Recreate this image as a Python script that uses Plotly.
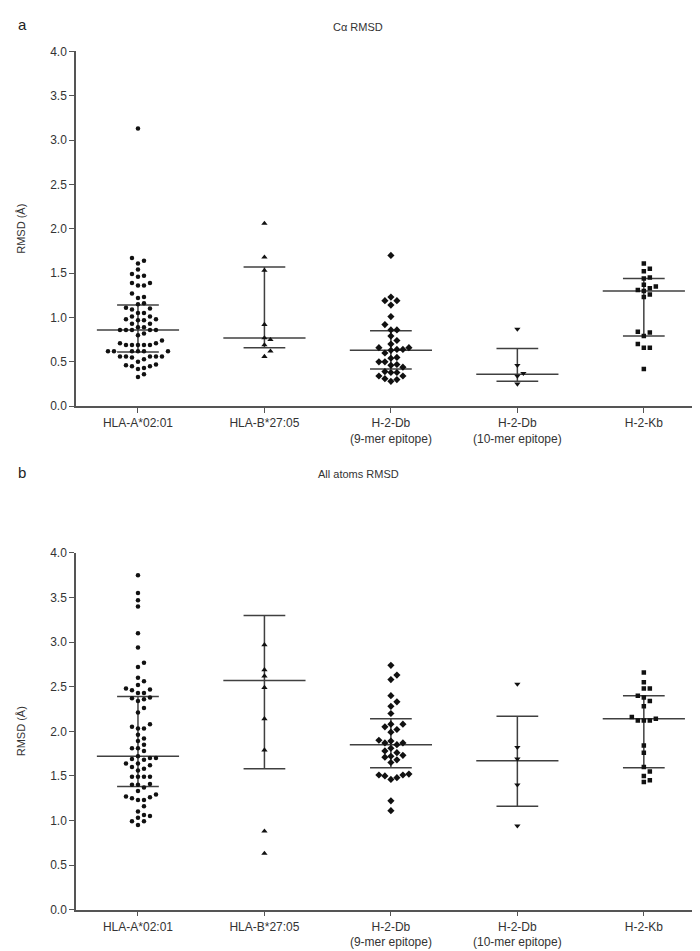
import numpy as np
import plotly.graph_objects as go

# ---------------- data ----------------
categories = ["HLA-A*02:01", "HLA-B*27:05", "H-2-Db<br>(9-mer epitope)",
              "H-2-Db<br>(10-mer epitope)", "H-2-Kb"]
symbols = ["circle", "triangle-up", "diamond", "triangle-down", "square"]
marker_sizes = [4.5, 5.5, 5.5, 5.5, 4.5]

# panel a : C-alpha RMSD
ca_hla_a0201 = [3.13, 1.67, 1.64, 1.61, 1.54, 1.49, 1.47, 1.46, 1.39, 1.39, 1.36, 1.36,
                1.27, 1.23, 1.22, 1.16, 1.15, 1.10, 1.11, 1.09, 1.05, 1.05, 1.01, 1.01,
                0.98, 0.98, 0.97, 0.97, 0.93, 0.93, 0.89, 0.89, 0.86, 0.86, 0.86, 0.86,
                0.86, 0.82, 0.80, 0.74, 0.71, 0.69, 0.69, 0.69, 0.69, 0.69, 0.71, 0.62,
                0.62, 0.62, 0.62, 0.62, 0.62, 0.56, 0.56, 0.56, 0.56, 0.56, 0.50, 0.53,
                0.55, 0.47, 0.45, 0.43, 0.42, 0.45, 0.46, 0.36, 0.33]
ca_hla_b2705 = [2.06, 1.68, 1.53, 0.92, 0.77, 0.75, 0.69, 0.62, 0.56]
ca_h2db_9mer = [1.70, 1.23, 1.19, 1.19, 1.14, 1.01, 0.92, 0.86, 0.86, 0.79, 0.74, 0.70,
                0.66, 0.64, 0.63, 0.60, 0.64, 0.66, 0.55, 0.50, 0.47, 0.50, 0.54, 0.44,
                0.46, 0.39, 0.38, 0.38, 0.34, 0.31, 0.28, 0.30, 0.34]
ca_h2db_10mer = [0.87, 0.46, 0.37, 0.34, 0.25]
ca_h2kb = [1.61, 1.55, 1.52, 1.44, 1.45, 1.37, 1.33, 1.30, 1.31, 1.35, 1.26, 1.23,
           0.84, 0.83, 0.79, 0.66, 0.66, 0.70, 0.42]
ca_median = [0.86, 0.77, 0.63, 0.36, 1.30]
ca_q1 = [0.61, 0.66, 0.42, 0.28, 0.79]
ca_q3 = [1.14, 1.57, 0.85, 0.65, 1.44]

# panel b : all atoms RMSD
all_hla_a0201 = [3.75, 3.55, 3.47, 3.40, 3.10, 2.94, 2.77, 2.72, 2.60, 2.56, 2.52, 2.47,
                 2.43, 2.43, 2.46, 2.48, 2.37, 2.34, 2.36, 2.38, 2.26, 2.21, 2.08, 2.05,
                 2.03, 2.03, 1.96, 1.92, 1.89, 1.85, 1.81, 1.78, 1.81, 1.70, 1.69, 1.72,
                 1.68, 1.70, 1.64, 1.64, 1.62, 1.60, 1.56, 1.58, 1.49, 1.49, 1.49, 1.49,
                 1.40, 1.40, 1.41, 1.37, 1.33, 1.27, 1.25, 1.23, 1.23, 1.26, 1.29, 1.16,
                 1.10, 1.05, 1.03, 1.06, 0.99, 0.99, 0.95]
all_hla_b2705 = [2.97, 2.69, 2.62, 2.49, 2.14, 1.79, 0.88, 0.63]
all_h2db_9mer = [2.74, 2.63, 2.58, 2.40, 2.33, 2.28, 2.20, 2.08, 2.08, 2.05, 2.02, 1.99,
                 1.89, 1.87, 1.87, 1.90, 1.85, 1.81, 1.78, 1.76, 1.73, 1.72, 1.71, 1.68,
                 1.65, 1.51, 1.50, 1.46, 1.48, 1.51, 1.52, 1.22, 1.11]
all_h2db_10mer = [2.53, 1.82, 1.69, 1.40, 0.94]
all_h2kb = [2.66, 2.55, 2.48, 2.48, 2.40, 2.38, 2.34, 2.28, 2.16, 2.12, 2.12, 2.12,
            2.14, 1.84, 1.76, 1.60, 1.55, 1.50, 1.45, 1.43]
all_median = [1.72, 2.57, 1.85, 1.67, 2.14]
all_q1 = [1.38, 1.58, 1.59, 1.16, 1.59]
all_q3 = [2.39, 3.30, 2.14, 2.17, 2.40]

ca_groups = [ca_hla_a0201, ca_hla_b2705, ca_h2db_9mer, ca_h2db_10mer, ca_h2kb]
all_groups = [all_hla_a0201, all_hla_b2705, all_h2db_9mer, all_h2db_10mer, all_h2kb]

# ---------------- layout geometry ----------------
W, H = 700, 951
X_RANGE = [-0.49, 4.46]
PLOT_L, PLOT_R = 68, 694
PPU_X = (PLOT_R - PLOT_L) / (X_RANGE[1] - X_RANGE[0])
panels = [  # (top px, bottom px)
    (37, 397),
    (546, 908),
]
SEP = 6.0  # px spacing between point centres in the swarm
MED_HALF = 0.325
Q_HALF = 0.165
LINE_COLOR = "#404040"
FONT = "Liberation Sans, Arial, sans-serif"


def swarm_offsets(vals, ppu_y):
    vals = np.asarray(vals, dtype=float)
    order = np.argsort(vals, kind="stable")
    placed = []
    offs = np.zeros(len(vals))
    cands = [0.0]
    for k in range(1, 40):
        cands += [k * SEP, -k * SEP]
    for i in order:
        yp = vals[i] * ppu_y
        chosen = 0.0
        for c in cands:
            if all((c - px) ** 2 + (yp - py) ** 2 >= SEP ** 2 for px, py in placed):
                chosen = c
                break
        placed.append((chosen, yp))
        offs[i] = chosen / PPU_X
    return offs


fig = go.Figure()
shapes = []

datasets = [(ca_groups, ca_median, ca_q1, ca_q3), (all_groups, all_median, all_q1, all_q3)]
for p, (groups, med, q1, q3) in enumerate(datasets):
    top, bot = panels[p]
    ppu_y = (bot - top) / 4.0
    xa = "x" if p == 0 else "x2"
    ya = "y" if p == 0 else "y2"
    for g, vals in enumerate(groups):
        offs = swarm_offsets(vals, ppu_y)
        fig.add_trace(go.Scatter(
            x=g + offs, y=vals, mode="markers", xaxis=xa, yaxis=ya,
            marker=dict(symbol=symbols[g], size=marker_sizes[g], color="#111111",
                        line=dict(width=0)),
            showlegend=False, hoverinfo="y"))
        # median & interquartile range
        lw = dict(color=LINE_COLOR, width=1.5)
        shapes.append(dict(type="line", xref=xa, yref=ya, x0=g - MED_HALF, x1=g + MED_HALF,
                           y0=med[g], y1=med[g], line=lw, layer="below"))
        shapes.append(dict(type="line", xref=xa, yref=ya, x0=g - Q_HALF, x1=g + Q_HALF,
                           y0=q1[g], y1=q1[g], line=lw, layer="below"))
        shapes.append(dict(type="line", xref=xa, yref=ya, x0=g - Q_HALF, x1=g + Q_HALF,
                           y0=q3[g], y1=q3[g], line=lw, layer="below"))
        shapes.append(dict(type="line", xref=xa, yref=ya, x0=g, x1=g,
                           y0=q1[g], y1=q3[g], line=lw, layer="below"))


def ydom(top, bot):
    return [1 - bot / H, 1 - top / H]


xdom = [PLOT_L / W, PLOT_R / W]
axis_common = dict(showline=True, linecolor="#555555", linewidth=1.5, ticks="outside",
                   ticklen=5, tickwidth=1.2, tickcolor="#555555", showgrid=False,
                   zeroline=False, tickfont=dict(family=FONT, size=12, color="#333333"))

xaxis_cfg = dict(axis_common, range=X_RANGE, domain=xdom, tickmode="array",
                 tickvals=list(range(len(categories))), ticktext=categories)
yaxis_cfg = dict(axis_common, range=[0, 4], tickmode="array",
                 tickvals=[0, 0.5, 1, 1.5, 2, 2.5, 3, 3.5, 4], tickformat=".1f")

fig.update_layout(
    width=W, height=H,
    margin=dict(l=0, r=0, t=0, b=0),
    paper_bgcolor="white", plot_bgcolor="white",
    xaxis=dict(xaxis_cfg, anchor="y"),
    yaxis=dict(yaxis_cfg, domain=ydom(*panels[0]), anchor="x"),
    xaxis2=dict(xaxis_cfg, anchor="y2"),
    yaxis2=dict(yaxis_cfg, domain=ydom(*panels[1]), anchor="x2"),
    shapes=shapes,
    font=dict(family=FONT, size=12, color="#333333"),
)

annos = []
titles = [("a", "C\u03b1 RMSD", 11), ("b", "All atoms RMSD", 465)]
for p, (lab, title, ty) in enumerate(titles):
    annos.append(dict(text=lab, x=8 / W, y=1 - (ty - 1) / H, xref="paper", yref="paper",
                      xanchor="left", yanchor="middle", showarrow=False,
                      font=dict(family=FONT, size=15, color="#222222")))
    annos.append(dict(text=title, x=0.5, y=1 - (ty + 1) / H, xref="paper", yref="paper",
                      xanchor="center", yanchor="middle", showarrow=False,
                      font=dict(family=FONT, size=11, color="#333333")))
    top, bot = panels[p]
    annos.append(dict(text="RMSD (\u00c5)", x=13 / W, y=1 - (top + bot) / 2 / H,
                      xref="paper", yref="paper", xanchor="center", yanchor="middle",
                      textangle=-90, showarrow=False,
                      font=dict(family=FONT, size=11, color="#333333")))
fig.update_layout(annotations=annos)

fig.write_html("out.html")
